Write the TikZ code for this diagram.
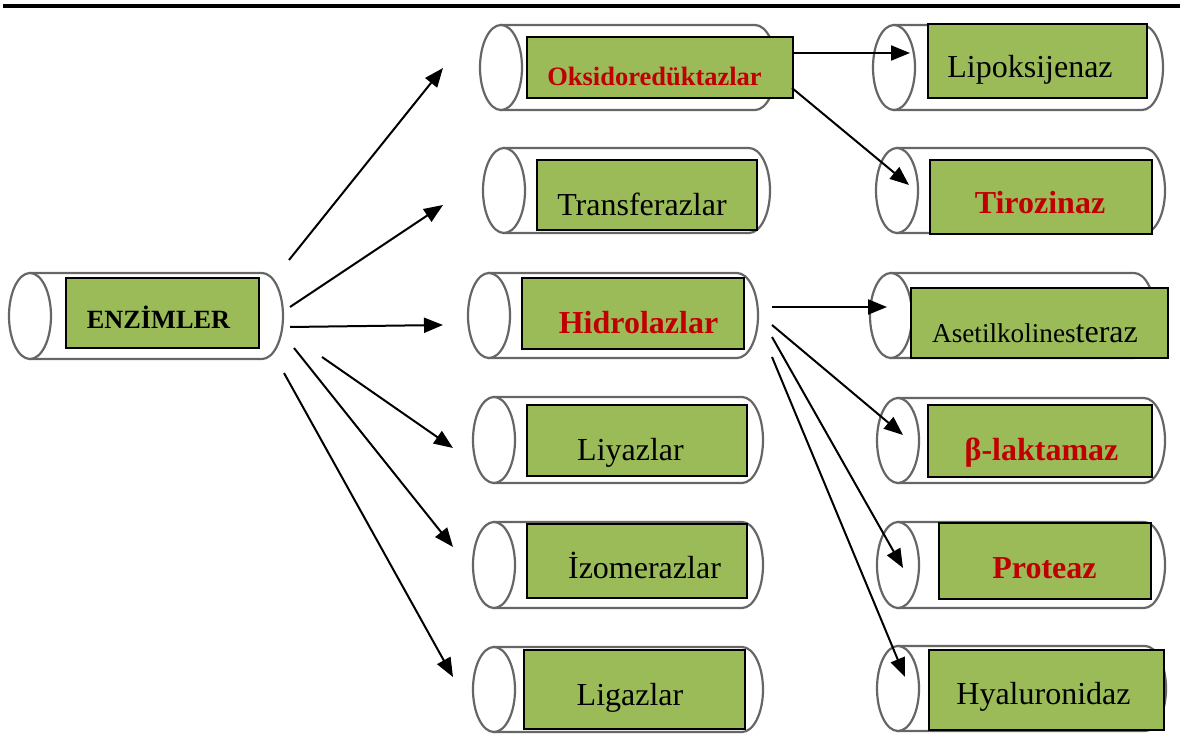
\documentclass[tikz,border=0pt]{standalone}
\usepackage{fontspec}
\setmainfont{Liberation Serif}
\usetikzlibrary{arrows.meta}

\definecolor{boxgreen}{HTML}{9BBB59}
\definecolor{labelred}{HTML}{C00000}
\definecolor{tubegray}{gray}{0.4}

\tikzset{
  tube/.style={draw=tubegray, line width=2.2pt, fill=white},
  box/.style={draw=black, line width=2.4pt, fill=boxgreen, inner sep=0pt, anchor=north west},
  plain/.style={anchor=base, inner sep=0pt, font=\fontsize{32}{36}\selectfont},
  hot/.style={anchor=base, inner sep=0pt, text=labelred, font=\fontsize{32}{36}\selectfont\bfseries},
  link/.style={-{Triangle[length=19pt,width=15pt]}, line width=2pt},
}

% tube: left x, right x, top y, bottom y
\newcommand\drawtube[4]{%
  \pgfmathsetmacro\tubery{(#4-#3)/2}%
  \pgfmathsetmacro\tubemid{(#3+#4)/2}%
  \draw[tube] (#1+21,#3) -- (#2-21,#3)
    arc[start angle=90, end angle=-90, x radius=21pt, y radius=\tubery pt]
    -- (#1+21,#4) -- cycle;
  \draw[tube] (#1+21,\tubemid) ellipse[x radius=21pt, y radius=\tubery pt];
}
% green label box: name, left x, right x, top y, bottom y
\newcommand\greenbox[5]{%
  \node[box, minimum width={(#3-#2)*1pt}, minimum height={(#5-#4)*1pt}] (#1) at (#2,#4) {};
}

\begin{document}
\begin{tikzpicture}[x=1pt, y=-1pt]
\useasboundingbox (0,0) rectangle (1191,735);

% rule along the top
\coordinate (rule-l) at (3,6);
\coordinate (rule-r) at (1180,6);
\draw[line width=3.2pt] (rule-l) -- (rule-r);

% tubes
\drawtube{9}{283}{273}{359}
\drawtube{480}{776}{25}{110}
\drawtube{483}{770}{148}{233}
\drawtube{468}{758}{273}{358}
\drawtube{473}{763}{397}{483}
\drawtube{473}{763}{522}{608}
\drawtube{473}{763}{647}{732}
\drawtube{873}{1163}{25}{110}
\drawtube{876}{1165}{148}{233}
\drawtube{870}{1155}{273}{358}
\drawtube{877}{1165}{398}{483}
\drawtube{877}{1165}{522}{608}
\drawtube{877}{1166}{646}{731}

% boxes
\greenbox{enz}{65}{258}{277}{347}
\greenbox{oks}{526}{792}{36}{97}
\greenbox{tra}{536}{756}{159}{229}
\greenbox{hid}{521}{743}{277}{348}
\greenbox{liy}{526}{746}{404}{475}
\greenbox{izo}{526}{746}{523}{597}
\greenbox{lig}{523}{744}{649}{728}
\greenbox{lip}{927}{1146}{23}{97}
\greenbox{tir}{929}{1151}{159}{233}
\greenbox{ase}{910}{1167}{287}{357}
\greenbox{bla}{927}{1151}{404}{476}
\greenbox{pro}{938}{1150}{522}{598}
\greenbox{hya}{928}{1163}{649}{729}

% labels
\node[anchor=base, inner sep=0pt, font=\fontsize{26.3}{30}\selectfont\bfseries] (enz-t) at (158.5,328) {ENZİMLER};
\node[hot, font=\fontsize{26.5}{30}\selectfont\bfseries] (oks-t) at (654.5,86) {Oksidoredüktazlar};
\node[plain] (tra-t) at (642,216) {Transferazlar};
\node[hot] (hid-t) at (638.5,333) {Hidrolazlar};
\node[plain] (liy-t) at (630.5,460) {Liyazlar};
\node[plain] (izo-t) at (644.5,578) {İzomerazlar};
\node[plain] (lig-t) at (630,705) {Ligazlar};
\node[plain] (lip-t) at (1030,78) {Lipoksijenaz};
\node[hot] (tir-t) at (1040,214) {Tirozinaz};
\node[anchor=base, inner sep=0pt] (ase-t) at (1035,342) {\fontsize{27.2}{32}\selectfont Asetilkolines\fontsize{32}{36}\selectfont teraz};
\node[hot] (bla-t) at (1041.5,460) {β-laktamaz};
\node[hot] (pro-t) at (1044.5,578) {Proteaz};
\node[plain] (hya-t) at (1043.5,704) {Hyaluronidaz};

% connector ends
\coordinate (enz-a1) at (289,260);  \coordinate (oks-in) at (443,68);
\coordinate (enz-a2) at (290,307);  \coordinate (tra-in) at (443,205);
\coordinate (enz-a3) at (290,327);  \coordinate (hid-in) at (443,325);
\coordinate (enz-a4) at (322,357);  \coordinate (liy-in) at (453,448);
\coordinate (enz-a5) at (294,348);  \coordinate (izo-in) at (453,547);
\coordinate (enz-a6) at (284,373);  \coordinate (lig-in) at (453,677);
\coordinate (oks-a1) at (792,53);   \coordinate (lip-in) at (910,53);
\coordinate (oks-a2) at (792,88);   \coordinate (tir-in) at (909,185);
\coordinate (hid-a1) at (772,307);  \coordinate (ase-in) at (887,307);
\coordinate (hid-a2) at (772,325);  \coordinate (bla-in) at (903,435);
\coordinate (hid-a3) at (772,337);  \coordinate (pro-in) at (903,568);
\coordinate (hid-a4) at (772,357);  \coordinate (hya-in) at (905,677);

% connectors
\draw[link] (enz-a1) -- (oks-in);
\draw[link] (enz-a2) -- (tra-in);
\draw[link] (enz-a3) -- (hid-in);
\draw[link] (enz-a4) -- (liy-in);
\draw[link] (enz-a5) -- (izo-in);
\draw[link] (enz-a6) -- (lig-in);
\draw[link] (oks-a1) -- (lip-in);
\draw[link] (oks-a2) -- (tir-in);
\draw[link] (hid-a1) -- (ase-in);
\draw[link] (hid-a2) -- (bla-in);
\draw[link] (hid-a3) -- (pro-in);
\draw[link] (hid-a4) -- (hya-in);
\end{tikzpicture}
\end{document}
